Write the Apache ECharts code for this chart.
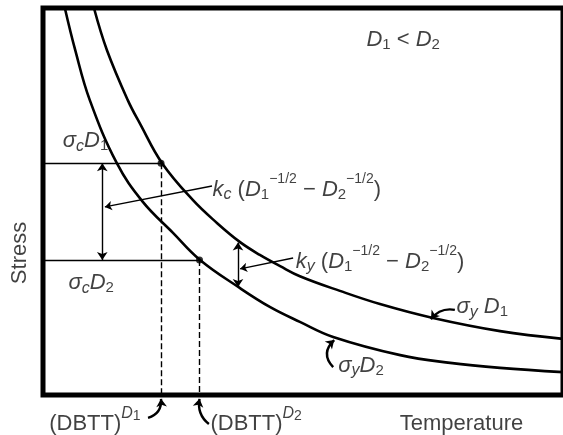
<!DOCTYPE html>
<html>
<head>
<meta charset="utf-8">
<script src="https://cdn.jsdelivr.net/npm/echarts@6/dist/echarts.min.js"></script>
<style>
  html, body { margin: 0; padding: 0; background: #fff; }
  #chart { width: 563px; height: 435px; }
</style>
</head>
<body>
<div id="chart"></div>
<script>
// yield stress curves (temperature, stress), arbitrary 0-100 units
let yieldD1 = [[9.8, 100], [12.3, 89.1], [16.3, 76.2], [18.7, 70.0], [22.9, 59.9], [28.8, 50.4],
    [33.5, 44.4], [37.9, 39.5], [41.7, 36.2], [45.6, 33.3], [49.4, 30.7], [57.1, 26.9], [64.8, 23.5],
    [75.0, 19.9], [87.9, 16.5], [100, 14.5]]
let yieldD2 = [[4.2, 100], [6.2, 89.1], [9.0, 76.2], [14.2, 59.9], [19.2, 49.9], [25.0, 41.9],
    [30.2, 34.9], [37.9, 27.6], [43.7, 22.7], [49.4, 18.9], [55.8, 15.0], [68.7, 10.3],
    [78.3, 8.3], [87.9, 7.0], [100, 5.9]]
// cleavage stress and transition temperature for D1, D2
let sigmaC = [59.9, 34.9]
let dbtt = [22.7, 30.1]
// stress differences shown by double arrows
let kcArrow = [[11.4, 59.9], [11.4, 34.9]]
let kyArrow = [[37.5, 39.4], [37.5, 27.9]]
let leaders = [
    [[32.5, 54.0], [11.9, 48.6]],
    [[48.1, 35.4], [37.9, 32.6]]
]
let hooks = [
    {from: [79.2, 22.0], to: [74.6, 19.6], bend: -0.3},
    {from: [55.8, 7.2], to: [56.0, 14.2], bend: 0.5},
    {from: [20.2, -5.9], to: [22.7, -1.0], bend: -0.4},
    {from: [31.9, -7.5], to: [30.1, -1.0], bend: 0.3}
]
let labels = [
    {pos: [62.1, 91.7], text: '{i|D}{s|1}{n| < }{i|D}{s|2}'},
    {pos: [3.7, 65.6], text: '{i|σ}{si|c}{i|D}{s|1}'},
    {pos: [4.8, 28.9], text: '{i|σ}{si|c}{i|D}{s|2}'},
    {pos: [32.5, 53.0], text: '{i|k}{si|c}{n| (}{i|D}{s|1}{p|−1/2}{n| − }{i|D}{s|2}{p|−1/2}{n|)}'},
    {pos: [48.5, 34.4], text: '{i|k}{si|y}{n| (}{i|D}{s|1}{p|−1/2}{n| − }{i|D}{s|2}{p|−1/2}{n|)}'},
    {pos: [79.4, 22.7], text: '{i|σ}{si|y}{n| }{i|D}{s|1}'},
    {pos: [56.7, 7.5], text: '{i|σ}{si|y}{i|D}{s|2}'},
    {pos: [1.1, -7.5], text: '{n|(DBTT)}{pi|D}{ps|1}'},
    {pos: [32.1, -7.5], text: '{n|(DBTT)}{pi|D}{ps|2}'},
    {pos: [68.5, -7.5], text: '{n|Temperature}'}
]
let yLabel = {pos: [-4.4, 36.7], text: 'Stress'}

const font = '"Liberation Sans", Arial, sans-serif'
const ink = '#111'
let rich = {
    n: {fontSize: 22, lineHeight: 22, fontFamily: font, color: ink},
    i: {fontSize: 22, lineHeight: 22, fontFamily: font, color: ink, fontStyle: 'italic'},
    s: {fontSize: 15, lineHeight: 15, fontFamily: font, color: ink, padding: [10, 0, 0, 0]},
    si: {fontSize: 16, lineHeight: 16, fontFamily: font, color: ink, fontStyle: 'italic', padding: [10, 0, 0, 0]},
    p: {fontSize: 14, lineHeight: 14, fontFamily: font, color: ink, padding: [0, 0, 22, 0]},
    pi: {fontSize: 16, lineHeight: 16, fontFamily: font, color: ink, fontStyle: 'italic', padding: [0, 0, 21, 0]},
    ps: {fontSize: 14, lineHeight: 14, fontFamily: font, color: ink, padding: [0, 0, 16, 0]}
}

let chart = echarts.init(document.getElementById('chart'))

let thin = {color: '#000', width: 1.4, opacity: 1}
let option = {
    animation: false,
    backgroundColor: '#fff',
    grid: {left: 43, top: 8, right: -4, bottom: 40, show: true, borderColor: '#000', borderWidth: 5},
    xAxis: {
        type: 'value', min: 0, max: 100,
        axisLine: {show: false}, axisTick: {show: false}, axisLabel: {show: false}, splitLine: {show: false}
    },
    yAxis: {
        type: 'value', min: 0, max: 100,
        axisLine: {show: false}, axisTick: {show: false}, axisLabel: {show: false}, splitLine: {show: false}
    },
    series: [
        {
            name: 'σy D1', type: 'line', data: yieldD1, smooth: 0.4, symbol: 'none',
            lineStyle: {color: '#000', width: 2.6}
        },
        {
            name: 'σy D2', type: 'line', data: yieldD2, smooth: 0.4, symbol: 'none',
            lineStyle: {color: '#000', width: 2.6}
        },
        {
            // cleavage stress levels
            type: 'lines', coordinateSystem: 'cartesian2d', symbol: 'none',
            lineStyle: thin,
            data: sigmaC.map((s, i) => ({coords: [[0, s], [dbtt[i], s]]}))
        },
        {
            // DBTT drop lines
            type: 'lines', coordinateSystem: 'cartesian2d', symbol: 'none',
            lineStyle: {color: '#000', width: 1.4, opacity: 1, type: [6, 3]},
            data: sigmaC.map((s, i) => ({coords: [[dbtt[i], s], [dbtt[i], 0]]}))
        },
        {
            type: 'lines', coordinateSystem: 'cartesian2d',
            symbol: ['arrow', 'arrow'], symbolSize: 8,
            lineStyle: thin,
            data: [{coords: kcArrow}, {coords: kyArrow}]
        },
        {
            type: 'lines', coordinateSystem: 'cartesian2d',
            symbol: ['none', 'arrow'], symbolSize: 7,
            lineStyle: thin,
            data: leaders.map(c => ({coords: c}))
        },
        {
            type: 'lines', coordinateSystem: 'cartesian2d', clip: false,
            symbol: ['none', 'arrow'], symbolSize: 8,
            lineStyle: {color: '#000', width: 2.4, opacity: 1},
            data: hooks.map(h => ({coords: [h.from, h.to], lineStyle: {curveness: h.bend}}))
        },
        {
            type: 'scatter', symbolSize: 7, itemStyle: {color: '#000'},
            data: sigmaC.map((s, i) => [dbtt[i], s])
        },
        {
            type: 'scatter', clip: false, symbolSize: 1, silent: true,
            itemStyle: {color: 'transparent'},
            data: labels.map(l => ({
                value: l.pos,
                label: {show: true, position: 'right', distance: 0, formatter: l.text, rich: rich}
            })).concat([{
                value: yLabel.pos,
                label: {
                    show: true, position: 'inside', rotate: 90, formatter: yLabel.text,
                    fontSize: 22, fontFamily: font, color: ink
                }
            }])
        }
    ]
}
chart.setOption(option)
</script>
</body>
</html>
